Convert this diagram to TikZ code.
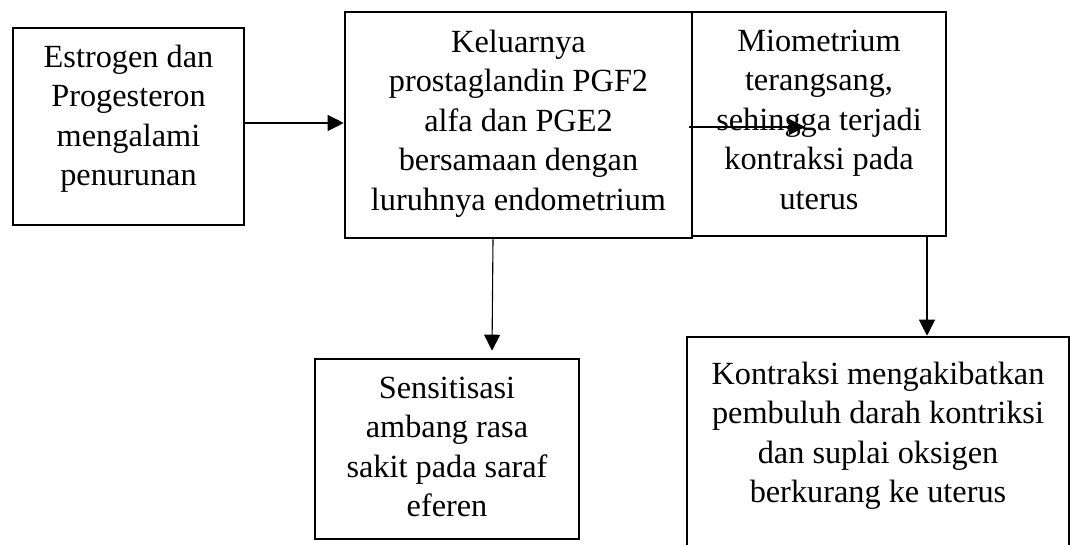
\documentclass[tikz,border=0pt]{standalone}
\usepackage{fontspec}
\setmainfont{Liberation Serif}
\usetikzlibrary{arrows.meta,calc}
\begin{document}
\begin{tikzpicture}[x=1pt,y=-1pt,
  box/.style={draw, line width=2.6pt, inner sep=0pt},
  txt/.style={align=center, inner sep=0pt, anchor=north, font=\fontsize{32.3}{39.5}\selectfont},
  arr/.style={line width=1.1pt, -{Triangle[length=16pt,width=16pt]}}]
\useasboundingbox (0,0) rectangle (1075,545);
\clip (0,0) rectangle (1075,545);
% boxes
\node[box, minimum width=231pt, minimum height=197pt] (A) at (128.5,126.5) {};
\node[box, minimum width=347pt, minimum height=226pt] (B) at (518.5,125) {};
\node[box, minimum width=254pt, minimum height=224pt] (C) at (819,124) {};
\node[box, minimum width=264pt, minimum height=180pt] (D) at (447,449) {};
\node[box, minimum width=382pt, minimum height=300pt] (E) at (878,487) {};
% texts
\node[txt] (tA) at ($(A.north)+(0,18)$) {Estrogen dan\\Progesteron\\mengalami\\penurunan};
\node[txt] (tB) at ($(B.north)+(0,19)$) {Keluarnya\\prostaglandin PGF2\\alfa dan PGE2\\bersamaan dengan\\luruhnya endometrium};
\node[txt] (tC) at ($(C.north)+(0,19)$) {Miometrium\\terangsang,\\sehingga terjadi\\kontraksi pada\\uterus};
\node[txt] (tD) at ($(D.north)+(0,19)$) {Sensitisasi\\ambang rasa\\sakit pada saraf\\eferen};
\node[txt] (tE) at ($(E.north)+(0,26)$) {Kontraksi mengakibatkan\\pembuluh darah kontriksi\\dan suplai oksigen\\berkurang ke uterus};
% connectors
\coordinate (bc) at (805,127);
\draw[arr] ($(A.east)+(0,-3.5)$) -- ($(A.east -| B.west)+(0,-3.5)$);
\draw[arr] ($(B.east)+(-4,2)$) -- (bc);
\draw[arr] ($(B.south)+(-25.5,0)$) -- ($(D.north)+(45,-7)$);
\draw[arr] ($(C.south)+(108,0)$) -- ($(E.north)+(49,0)$);
\end{tikzpicture}
\end{document}
